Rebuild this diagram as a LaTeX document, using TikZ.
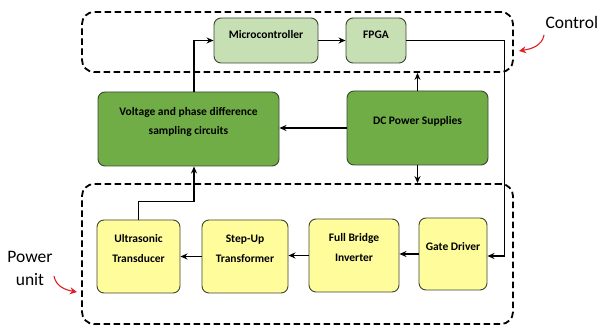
\documentclass[tikz,border=0pt]{standalone}
\usepackage{fontspec}
\setmainfont{Carlito}
\usetikzlibrary{arrows.meta}

\definecolor{vertclair}{RGB}{198,224,180}
\definecolor{vertfonce}{RGB}{112,173,71}
\definecolor{jaune}{RGB}{255,253,155}
\definecolor{bord}{RGB}{60,70,50}
\definecolor{rouge}{RGB}{225,30,35}

\tikzset{
    bloc/.style={draw=bord, rounded corners=7pt, line width=0.9pt, align=center,
        font=\bfseries\fontsize{11.5}{19.5}\selectfont, inner sep=2pt, text depth=16pt},
    cadre/.style={draw, dashed, line width=1.8pt, dash pattern=on 6.5pt off 3.5pt, rounded corners=12pt},
    fleche/.style={->, >={Stealth[length=7pt,width=6pt]}, line width=1.3pt},
    renvoi/.style={->, >={Stealth[length=7pt,width=7pt]}, rouge, line width=1.1pt}
}

\begin{document}
\begin{tikzpicture}[x=1pt, y=-1pt]
    \useasboundingbox (0,0) rectangle (599,328);

    % Cadres en pointilles
    \node[cadre, minimum width=431pt, minimum height=60pt] (ctrl) at (297.5,42) {};
    \node[cadre, minimum width=431pt, minimum height=140pt] (pwr) at (297.5,254) {};

    % Partie commande
    \node[bloc, fill=vertclair, minimum width=104pt, minimum height=45pt, text depth=12pt] (micro) at (266,40.5) {Microcontroller};
    \node[bloc, fill=vertclair, minimum width=60pt, minimum height=45pt, text depth=12pt] (fpga) at (376,40.5) {FPGA};

    % Blocs du milieu
    \node[bloc, fill=vertfonce, minimum width=181pt, minimum height=74pt] (volt) at (188.5,129)
        {Voltage and phase difference\\sampling circuits};
    \node[bloc, fill=vertfonce, minimum width=141pt, minimum height=74pt] (dc) at (417.5,128)
        {DC Power Supplies};

    % Partie puissance
    \node[bloc, fill=jaune, minimum width=83pt, minimum height=73pt] (ultra) at (138.5,256.5) {Ultrasonic\\Transducer};
    \node[bloc, fill=jaune, minimum width=86pt, minimum height=73pt] (step) at (245,256.5) {Step-Up\\Transformer};
    \node[bloc, fill=jaune, minimum width=90pt, minimum height=73pt] (pont) at (354,255.5) {Full Bridge\\Inverter};
    \node[bloc, fill=jaune, minimum width=68pt, minimum height=72pt] (gate) at (453,254) {Gate Driver};

    % Liaisons
    \draw[fleche] ([xshift=5.5pt]volt.north) |- (micro.west);
    \draw[fleche] (micro.east) -- (fpga.west);
    \draw[fleche] (fpga.east) -- ++(98,0) |- ([yshift=-2pt]gate.east);
    \draw[fleche] (dc.north) -- (dc.north |- ctrl.south);
    \draw[fleche] (dc.south) -- (dc.south |- pwr.north);
    \draw[fleche] (dc.west) -- (dc.west -| volt.east);
    \foreach \a/\b in {gate/pont, pont/step, step/ultra} {
        \draw[fleche] (\a.west) -- (\b.east |- \a.west);
    }
    \draw[fleche] (ultra.north) -- ++(0,-18) -| ([xshift=5.5pt]volt.south);

    % Etiquettes
    \node[font=\fontsize{17.5}{17.5}\selectfont, anchor=west] (lctrl) at (542,22) {Control};
    \node[font=\fontsize{17.5}{23}\selectfont, align=center] (lpwr) at (30,268) {Power\\unit};
    \draw[renvoi] (544,35) to[out=-100, in=10] (519,51);
    \draw[renvoi] (54,276) to[out=-80, in=170] (77,292);
\end{tikzpicture}
\end{document}
